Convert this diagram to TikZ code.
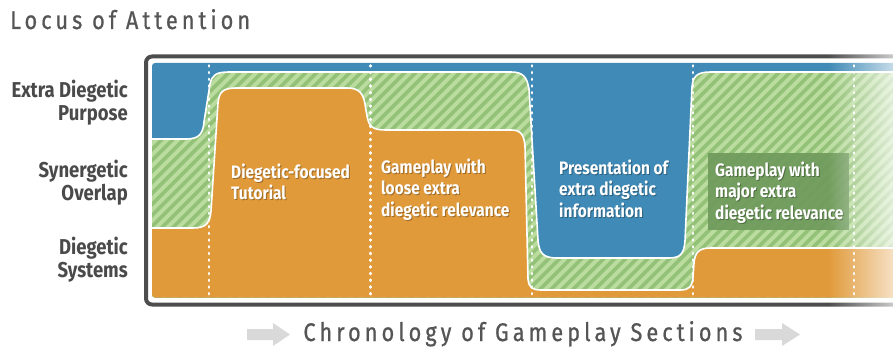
\documentclass[tikz,border=0pt]{standalone}
\usepackage{fontspec}
\setmainfont{Fira Sans}
\newfontfamily\labfont{Fira Sans}[FakeStretch=0.86]
\newfontfamily\titfont{Fira Sans}[FakeStretch=0.85,LetterSpace=16,FakeBold=0.8]
\usetikzlibrary{fadings}
\definecolor{cblue}{HTML}{3F8AB6}
\definecolor{corange}{HTML}{E19A3A}
\definecolor{cgreenA}{HTML}{BADD9F}
\definecolor{cgreenB}{HTML}{94C178}
\definecolor{cdkgreen}{HTML}{6F9A5C}
\definecolor{cframe}{HTML}{4D4D4D}
\definecolor{ctext}{HTML}{4A4A4A}
\definecolor{ctitle}{HTML}{555555}
\definecolor{carrow}{HTML}{D9D9D9}
\tikzfading[name=faderight, left color=transparent!100, right color=transparent!30]
\tikzset{
  frame/.style={draw=cframe, line width=4pt, rounded corners=6pt},
  wline/.style={draw=white, line width=1.6pt},
  dotline/.style={draw=white, line width=2.8pt, line cap=round, dash pattern=on 0.8pt off 5.9pt},
  rowlabel/.style={font=\labfont\fontsize{21.5}{23}\selectfont\bfseries, text=ctext, align=right, anchor=base east, inner sep=0pt},
  blabel/.style={font=\labfont\fontsize{18}{21.5}\selectfont\bfseries, text=white, align=left, anchor=base west, inner sep=0pt},
  bshadow/.style={blabel, text=black, opacity=0.3},
  titlab/.style={font=\titfont\fontsize{25.5}{28}\selectfont, text=ctitle, inner sep=0pt},
}
% #2,#3: baseline of the LAST line
\newcommand\boxlabel[4]{%
  \node[bshadow] (#1s) at (#2+1,#3+1.2) {#4};
  \node[blabel] (#1) at (#2,#3) {#4};}
\def\greencurve{(152,139) -- (186,139) .. controls (199,139) and (203,134) .. (204,122) -- (210,84) .. controls (212,75) and (216,72) .. (229,72) -- (511,72) .. controls (523,72) and (527,77) .. (529,89) -- (538,240) .. controls (539,253) and (543,258) .. (557,258) -- (669,258) .. controls (681,258) and (684,253) .. (685,241) -- (692,87) .. controls (693,76) and (697,72) .. (711,72) -- (940,72)}
\def\orangecurve{(152,228) -- (193,228) .. controls (206,228) and (210,223) .. (211,211) -- (218,103) .. controls (219,92) and (223,88) .. (236,88) -- (347,88) .. controls (359,88) and (363,93) .. (365,104) -- (367,116) .. controls (369,127) and (373,130) .. (386,130) -- (511,130) .. controls (521,130) and (524,135) .. (525,146) -- (528,279) .. controls (529,288) and (532,290) .. (542,290) -- (680,290) .. controls (689,290) and (692,287) .. (693,277) -- (694,263) .. controls (695,252) and (699,248) .. (711,248) -- (940,248)}
\begin{document}
\begin{tikzpicture}[x=1pt,y=-1pt]
\useasboundingbox (0,0) rectangle (893,350);
\clip (0,0) rectangle (893,350);
\fill[white] (0,0) rectangle (893,350);
% frame
\draw[frame] (146,56.5) rectangle (940,304.5);
% content
\begin{scope}
  \clip[rounded corners=3pt] (152,63) rectangle (940,297.5);
  \fill[cblue] (150,60) rectangle (940,300);
  \begin{scope}
    \clip (152,300) -- \greencurve -- (940,300) -- cycle;
    \fill[cgreenB] (150,60) rectangle (940,300);
    \foreach \i in {-260,-249,...,940}
      \fill[cgreenA] (\i,300) -- ++(5.5,0) -- ++(250,-250) -- ++(-5.5,0) -- cycle;
  \end{scope}
  \draw[wline] \greencurve;
  \fill[corange] (152,300) -- \orangecurve -- (940,300) -- cycle;
  \draw[wline] \orangecurve;
\end{scope}
% section dividers
\foreach \x in {209,370.5,532,693,854}
  \draw[dotline] (\x,65.5) -- (\x,297);
% label box
\fill[cdkgreen, opacity=0.92] (708,153) rectangle (849,230);
% box labels
\boxlabel{tut}{231}{199.5}{Diegetic-focused\\Tutorial}
\boxlabel{loose}{381}{216}{Gameplay with\\loose extra\\diegetic relevance}
\boxlabel{pres}{559}{217}{Presentation of\\extra diegetic\\information}
\boxlabel{major}{715}{219}{Gameplay with\\major extra\\diegetic relevance}
% row labels
\node[rowlabel] (edp) at (128,121) {Extra Diegetic\\Purpose};
\node[rowlabel] (syn) at (128,200) {Synergetic\\Overlap};
\node[rowlabel] (dsy) at (128,277) {Diegetic\\Systems};
% titles
\node[titlab, anchor=base west] (locus) at (10,29) {Locus of Attention};
\node[titlab, anchor=base] (chron) at (523,341) {Chronology of Gameplay Sections};
% arrows
\fill[carrow] (247,329) -- (273,329) -- (273,323) -- (290,334.5) -- (273,346) -- (273,340) -- (247,340) -- cycle;
\fill[carrow] (755,329) -- (782,329) -- (782,323) -- (800,334.5) -- (782,346) -- (782,340) -- (755,340) -- cycle;
% right fade
\fill[white, path fading=faderight] (828,45) rectangle (893,315);
\end{tikzpicture}
\end{document}
